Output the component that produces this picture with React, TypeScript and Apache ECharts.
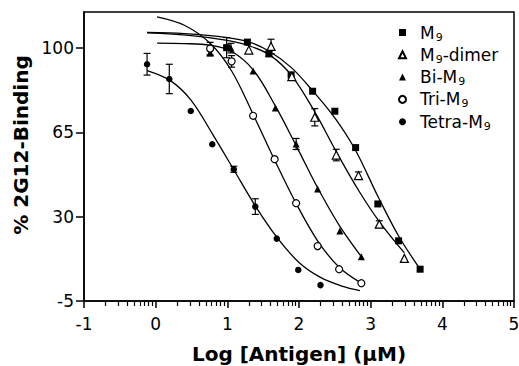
import React, { useEffect, useRef } from "react";
import * as echarts from "echarts";

// ---- data ----
const xTickLabels = [-1, 0, 1, 2, 3, 4, 5];
const yTickLabels = [-5, 30, 65, 100];

const seriesNames = ["M9", "M9-dimer", "Bi-M9", "Tri-M9", "Tetra-M9"];

// measured points (log concentration, % binding, error)
const m9X = [0.99, 1.28, 1.58, 1.89, 2.19, 2.5, 2.79, 3.1, 3.39, 3.69];
const m9Y = [100.2, 102.5, 97.6, 88.9, 82.1, 73.8, 58.7, 35.3, 20.0, 8.2];
const m9E = [4.2, 0, 1.0, 0, 0, 0, 0, 0, 0, 0];

const dimerX = [1.3, 1.61, 1.9, 2.22, 2.52, 2.83, 3.12, 3.47];
const dimerY = [99.2, 100.7, 88.2, 71.3, 55.6, 47.1, 26.9, 12.7];
const dimerE = [0, 3.0, 0, 3.6, 2.4, 1.5, 1.4, 0];

const biX = [0.76, 1.05, 1.36, 1.67, 1.96, 2.26, 2.57, 2.87];
const biY = [98.2, 100.0, 90.5, 75.1, 60.2, 41.5, 24.1, 13.4];
const biE = [1.5, 2.0, 0, 0, 2.3, 0, 0, 0];

const triX = [0.76, 1.06, 1.36, 1.66, 1.96, 2.26, 2.56, 2.87];
const triY = [99.8, 94.5, 71.9, 53.9, 35.6, 17.8, 8.2, 2.4];
const triE = [2.6, 2.4, 0, 0, 0, 0, 0, 0];

const tetraX = [-0.12, 0.19, 0.49, 0.79, 1.09, 1.39, 1.69, 1.99, 2.3];
const tetraY = [93.3, 87.2, 73.9, 60.1, 49.7, 34.2, 20.9, 7.9, 1.6];
const tetraE = [4.5, 6.1, 0, 0, 1.25, 3.25, 0, 0, 0];

// fitted curves
const m9FitX = [-0.12, 0.4, 1.0, 1.3, 1.58, 1.89, 2.19, 2.5, 2.79, 3.1, 3.39, 3.69];
const m9FitY = [106.5, 106.0, 104.4, 102.6, 98.8, 92.0, 82.3, 71.0, 57.5, 38.5, 22.0, 8.2];

const dimerFitX = [-0.12, 0.5, 1.0, 1.3, 1.6, 1.9, 2.22, 2.52, 2.83, 3.12, 3.47];
const dimerFitY = [106.3, 105.2, 103.2, 101.0, 97.0, 88.5, 73.5, 57.0, 41.0, 28.0, 15.0];

const biFitX = [0.02, 0.4, 0.76, 1.05, 1.36, 1.67, 1.96, 2.26, 2.57, 2.87];
const biFitY = [102.1, 101.9, 101.2, 98.8, 91.0, 76.0, 59.5, 42.0, 26.0, 13.4];

const triFitX = [0.02, 0.4, 0.76, 1.06, 1.36, 1.66, 1.96, 2.26, 2.56, 2.87];
const triFitY = [113.0, 109.5, 102.0, 90.5, 72.5, 53.5, 35.5, 20.0, 9.0, 2.4];

const tetraFitX = [-0.12, 0.2, 0.49, 0.8, 1.09, 1.39, 1.69, 2.0, 2.3, 2.6, 2.85];
const tetraFitY = [90.7, 86.6, 78.5, 64.0, 49.5, 34.5, 21.5, 11.0, 4.8, 1.2, -0.7];

// log-scale minor tick positions between decades
const minorFactors = [2, 3, 4, 5, 6, 7, 8, 9];

const FONT = "DejaVu Sans";
const BLACK = "#000";

function zip(xs: number[], ys: number[]) {
  return xs.map((x, i) => [x, ys[i]]);
}

function errSeries(name: string, xs: number[], ys: number[], es: number[]) {
  return {
    type: "custom",
    name,
    silent: true,
    z: 2,
    data: xs.map((x, i) => [x, ys[i], es[i]]).filter((d) => d[2] > 0),
    renderItem: (_params: any, api: any) => {
      const x = api.value(0);
      const y = api.value(1);
      const e = api.value(2);
      const t = api.coord([x, y + e]);
      const b = api.coord([x, y - e]);
      const hw = 3.5;
      const st = { stroke: BLACK, lineWidth: 1.2 };
      return {
        type: "group",
        children: [
          { type: "line", shape: { x1: t[0], y1: t[1], x2: b[0], y2: b[1] }, style: st },
          { type: "line", shape: { x1: t[0] - hw, y1: t[1], x2: t[0] + hw, y2: t[1] }, style: st },
          { type: "line", shape: { x1: b[0] - hw, y1: b[1], x2: b[0] + hw, y2: b[1] }, style: st },
        ],
      };
    },
  };
}

function fitSeries(name: string, xs: number[], ys: number[]) {
  return {
    type: "line",
    name,
    data: zip(xs, ys),
    showSymbol: false,
    smooth: 0.35,
    silent: true,
    z: 1,
    lineStyle: { color: BLACK, width: 1.3 },
  };
}

function pointSeries(name: string, xs: number[], ys: number[], symbol: string, size: number, open: boolean) {
  return {
    type: "scatter",
    name,
    data: zip(xs, ys),
    symbol,
    symbolSize: size,
    z: 3,
    itemStyle: open
      ? { color: "#fff", borderColor: BLACK, borderWidth: 1.2, opacity: 1 }
      : { color: BLACK, opacity: 1 },
  };
}

function legendText(name: string) {
  const parts = name.split("M9");
  let out = "";
  parts.forEach((p, i) => {
    if (p) out += `{m|${p}}`;
    if (i < parts.length - 1) out += `{m|M}{s|9}`;
  });
  return out;
}

export default function App() {
  const ref = useRef<HTMLDivElement>(null);

  useEffect(() => {
    if (!ref.current) return;
    const chart = echarts.init(ref.current, null, { renderer: "svg" });

    const minors: number[] = [];
    for (let d = -1; d < 5; d++) {
      minorFactors.forEach((k) => minors.push(d + Math.log10(k)));
    }

    const axisLine = { show: true, onZero: false, lineStyle: { color: BLACK, width: 1.5 } };

    chart.setOption({
      animation: false,
      backgroundColor: "#fff",
      grid: {
        left: 84,
        top: 12,
        right: 5,
        bottom: 65,
        containLabel: false,
        outerBoundsMode: "none",
        show: true,
        borderColor: BLACK,
        borderWidth: 1.5,
        backgroundColor: "transparent",
      },
      legend: {
        data: seriesNames,
        orient: "vertical",
        left: 393,
        top: 17.5,
        itemWidth: 7,
        itemHeight: 7,
        itemGap: 2.3,
        selectedMode: false,
        formatter: legendText,
        textStyle: {
          padding: [0, 0, 0, 9],
          rich: {
            m: { fontFamily: FONT, fontSize: 17, color: BLACK, lineHeight: 20 },
            s: { fontFamily: FONT, fontSize: 11, color: BLACK, lineHeight: 20, padding: [9, 0, 0, 1] },
          },
        },
      },
      xAxis: [
        {
          type: "value",
          min: xTickLabels[0],
          max: xTickLabels[xTickLabels.length - 1],
          interval: 1,
          position: "bottom",
          axisLine,
          axisTick: { show: true, inside: false, length: 7, lineStyle: { color: BLACK, width: 1.5 } },
          axisLabel: {
            fontFamily: FONT,
            fontSize: 17,
            color: BLACK,
            margin: 14,
            customValues: xTickLabels,
          },
          splitLine: { show: false },
          name: "Log [Antigen] (\u03bcM)",
          nameLocation: "middle",
          nameGap: 43,
          nameTextStyle: {
            fontFamily: FONT,
            fontSize: 20,
            fontWeight: "bold",
            color: BLACK,
            lineHeight: 20,
          },
        },
        {
          type: "value",
          min: xTickLabels[0],
          max: xTickLabels[xTickLabels.length - 1],
          position: "bottom",
          axisLine: { show: false, onZero: false },
          axisTick: { show: true, length: 5, customValues: minors, lineStyle: { color: BLACK, width: 1.2 } },
          axisLabel: { show: false },
          splitLine: { show: false },
        },
      ],
      yAxis: {
        type: "value",
        min: -5,
        max: 115,
        interval: 35,
        axisLine,
        axisTick: { show: true, length: 8, customValues: yTickLabels, lineStyle: { color: BLACK, width: 1.5 } },
        axisLabel: {
          fontFamily: FONT,
          fontSize: 17,
          color: BLACK,
          margin: 10,
          customValues: yTickLabels,
        },
        splitLine: { show: false },
        name: "% 2G12-Binding",
        nameLocation: "middle",
        nameGap: 51,
        nameTextStyle: {
          fontFamily: FONT,
          fontSize: 20,
          fontWeight: "bold",
          color: BLACK,
          padding: [0, 0, 0, 23],
        },
      },
      series: [
        fitSeries("M9 fit", m9FitX, m9FitY),
        fitSeries("M9-dimer fit", dimerFitX, dimerFitY),
        fitSeries("Bi-M9 fit", biFitX, biFitY),
        fitSeries("Tri-M9 fit", triFitX, triFitY),
        fitSeries("Tetra-M9 fit", tetraFitX, tetraFitY),
        errSeries("M9 err", m9X, m9Y, m9E),
        errSeries("M9-dimer err", dimerX, dimerY, dimerE),
        errSeries("Bi-M9 err", biX, biY, biE),
        errSeries("Tri-M9 err", triX, triY, triE),
        errSeries("Tetra-M9 err", tetraX, tetraY, tetraE),
        pointSeries("M9", m9X, m9Y, "rect", 7, false),
        pointSeries("M9-dimer", dimerX, dimerY, "triangle", 8, true),
        pointSeries("Bi-M9", biX, biY, "triangle", 7, false),
        pointSeries("Tri-M9", triX, triY, "circle", 7, true),
        pointSeries("Tetra-M9", tetraX, tetraY, "circle", 6.5, false),
      ],
    });

    return () => chart.dispose();
  }, []);

  return (
    <div
      ref={ref}
      style={{ position: "absolute", left: 0, top: 0, width: 519, height: 366 }}
    />
  );
}
